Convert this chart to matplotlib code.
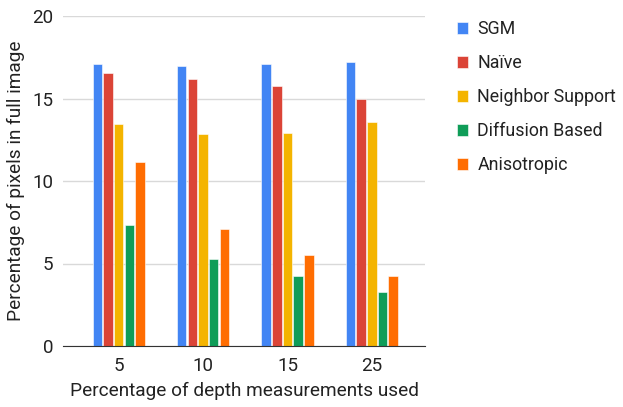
import matplotlib
matplotlib.use("Agg")
from matplotlib import pyplot as plt
import numpy as np

plt.rcParams["font.family"] = ["Roboto", "DejaVu Sans"]

groups = ["5", "10", "15", "25"]
series = ["SGM", "Naïve", "Neighbor Support", "Diffusion Based", "Anisotropic"]
sgm = [17.07, 16.99, 17.07, 17.19]
naive = [16.55, 16.16, 15.78, 14.95]
neighbor = [13.45, 12.83, 12.89, 13.58]
diffusion = [7.31, 5.25, 4.22, 3.27]
aniso = [11.13, 7.09, 5.52, 4.22]
values = [sgm, naive, neighbor, diffusion, aniso]
colors = ["#4285F4", "#DB4437", "#F4B400", "#0F9D58", "#FF6D01"]
yticks = [0, 5, 10, 15, 20]

fig = plt.figure(figsize=(6.23, 4.07), dpi=100)
ax = fig.add_axes([63 / 623, 61 / 407, 362 / 623, 330 / 407])

x = np.arange(len(groups))
step = 0.1265
width = 0.112
for i, (name, vals, c) in enumerate(zip(series, values, colors)):
    ax.bar(x + (i - 2) * step, vals, width, color=c, label=name,
           edgecolor="white", linewidth=0.4, zorder=2)

ax.set_xlim(-0.66, 3.63)
ax.set_ylim(0, 20)
ax.set_yticks(yticks)
ax.set_xticks(x)
ax.set_xticklabels(groups)
ax.grid(axis="y", color="#d9d9d9", linewidth=1, zorder=0)
for s in ["top", "right", "left"]:
    ax.spines[s].set_visible(False)
ax.spines["bottom"].set_color("#333333")
ax.tick_params(length=0, labelsize=13.5, colors="#222222")
ax.tick_params(axis="y", pad=7)
ax.tick_params(axis="x", pad=8)

ax.set_xlabel("Percentage of depth measurements used", fontsize=13.7,
              color="#222222", labelpad=5)
ax.set_ylabel("Percentage of pixels in full image", fontsize=13.7,
              color="#222222", labelpad=5)

ax.legend(loc="upper left", bbox_to_anchor=(448 / 623, 1 - 11 / 407),
          bbox_transform=fig.transFigure, frameon=False, fontsize=12.8,
          handlelength=0.65, handleheight=0.65, handletextpad=0.5,
          labelspacing=0.9, labelcolor="#222222", borderpad=0)

fig.savefig("out.png", dpi=100)
